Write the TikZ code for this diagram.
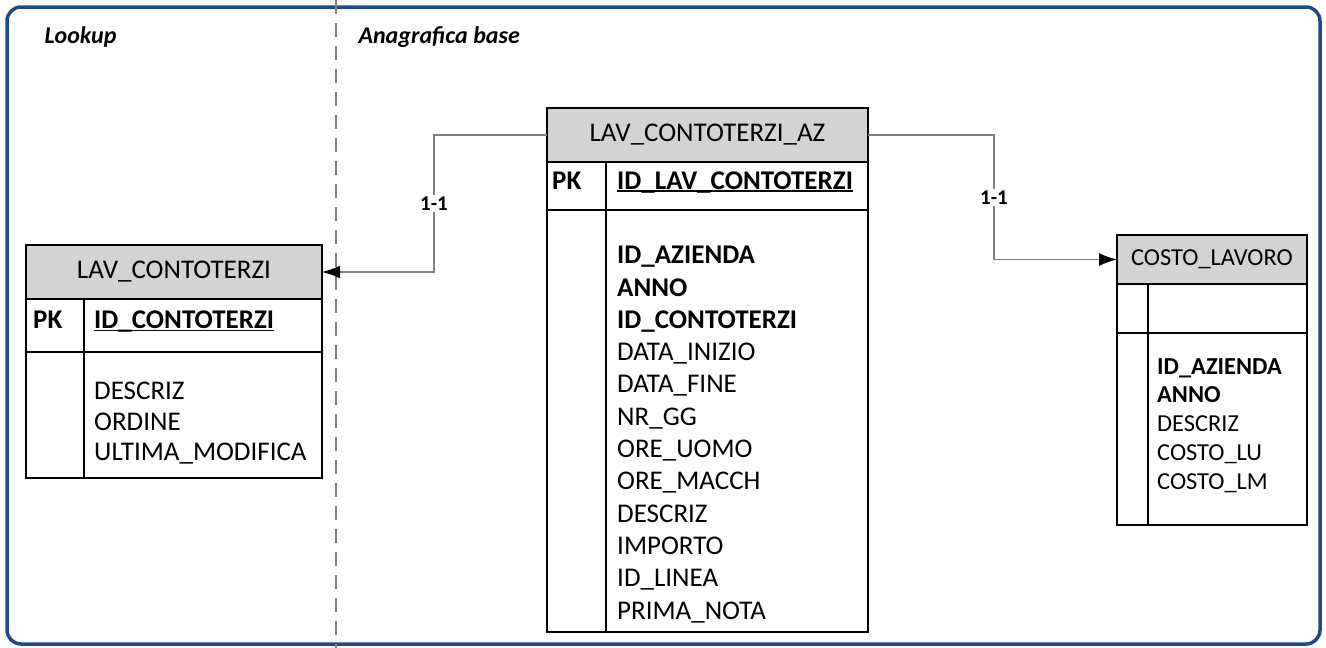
\documentclass[tikz,border=0pt]{standalone}
\usepackage{fontspec}
\setmainfont{Carlito}
\usetikzlibrary{positioning,arrows.meta}

\definecolor{frameblue}{RGB}{31,73,130}
\definecolor{headgray}{RGB}{211,211,211}
\definecolor{linkgray}{RGB}{128,128,128}

% bold key field with underline
\newcommand{\pkfield}[1]{\setbox0=\hbox{\bfseries #1}\rlap{\rule[-2.5pt]{\wd0}{1.4pt}}\box0}

\begin{document}
\begin{tikzpicture}[x=1pt, y=-1pt,
    tabbox/.style={rectangle, draw, line width=2pt, outer sep=0pt, inner sep=0pt, anchor=north west},
    tabhead/.style={tabbox, fill=headgray},
    bigfont/.style={font=\fontsize{27}{32.3}\selectfont},
    midfont/.style={font=\fontsize{27}{30.5}\selectfont},
    smallfont/.style={font=\fontsize{24.4}{28.8}\selectfont},
    keytext/.style={inner sep=0pt, anchor=west, text height=1.36ex, text depth=0pt},
    fieldtext/.style={inner sep=0pt, anchor=north west, align=left},
    divider/.style={line width=2pt},
    link/.style={draw=linkgray, line width=1.5pt, -{Latex[length=18pt, width=13pt, color=black]}},
    card/.style={fill=white, inner sep=1.5pt, text=black, font=\fontsize{21}{25}\selectfont\bfseries},
    zone/.style={anchor=west, font=\fontsize{24}{28}\selectfont\bfseries\itshape}
]
\useasboundingbox (0,0) rectangle (1326,648);

% frame and lanes
\draw[frameblue, line width=3.5pt, rounded corners=14pt] (7,7) rectangle (1320,644);
\draw[linkgray, line width=1.5pt, dash pattern=on 14pt off 9pt] (336,0) -- (336,648);
\node[zone] (lookup) at (41,37) {Lookup};
\node[zone] (anag) at (355,37) {Anagrafica base};

% LAV_CONTOTERZI
\node[tabhead, midfont, minimum width=296pt, minimum height=54pt] (lchead) at (26,245) {LAV\_CONTOTERZI};
\node[tabbox, minimum width=296pt, minimum height=53pt] (lckey) at (lchead.south west) {};
\node[tabbox, minimum width=296pt, minimum height=126pt] (lcbody) at (lckey.south west) {};
\draw[divider] ([xshift=58pt]lckey.north west) -- ([xshift=58pt]lcbody.south west);
\node[keytext, midfont] (lcpk) at ([xshift=7pt]lckey.west) {\bfseries PK};
\node[keytext, midfont] (lcid) at ([xshift=68pt]lckey.west) {\pkfield{ID\_CONTOTERZI}};
\node[fieldtext, midfont] (lcfields) at ([xshift=68pt, yshift=-30pt]lcbody.north west)
    {DESCRIZ\\ORDINE\\ULTIMA\_MODIFICA};

% LAV_CONTOTERZI_AZ
\node[tabhead, bigfont, minimum width=321pt, minimum height=54pt] (azhead) at (547,108) {LAV\_CONTOTERZI\_AZ};
\node[tabbox, minimum width=321pt, minimum height=48pt] (azkey) at (azhead.south west) {};
\node[tabbox, minimum width=321pt, minimum height=422pt] (azbody) at (azkey.south west) {};
\draw[divider] ([xshift=59pt]azkey.north west) -- ([xshift=59pt]azbody.south west);
\node[keytext, bigfont] (azpk) at ([xshift=5pt]azkey.west) {\bfseries PK};
\node[keytext, bigfont] (azid) at ([xshift=70pt]azkey.west) {\pkfield{ID\_LAV\_CONTOTERZI}};
\node[fieldtext, bigfont] (azfields) at ([xshift=70pt, yshift=-36pt]azbody.north west)
    {\textbf{ID\_AZIENDA}\\\textbf{ANNO}\\\textbf{ID\_CONTOTERZI}\\DATA\_INIZIO\\DATA\_FINE\\NR\_GG\\
     ORE\_UOMO\\ORE\_MACCH\\DESCRIZ\\IMPORTO\\ID\_LINEA\\PRIMA\_NOTA};

% COSTO_LAVORO
\node[tabhead, smallfont, minimum width=190pt, minimum height=49pt] (clhead) at (1117,235) {COSTO\_LAVORO};
\node[tabbox, minimum width=190pt, minimum height=49pt] (clkey) at (clhead.south west) {};
\node[tabbox, minimum width=190pt, minimum height=192pt] (clbody) at (clkey.south west) {};
\draw[divider] ([xshift=31pt]clkey.north west) -- ([xshift=31pt]clbody.south west);
\node[fieldtext, smallfont] (clfields) at ([xshift=40pt, yshift=-25pt]clbody.north west)
    {\textbf{ID\_AZIENDA}\\\textbf{ANNO}\\DESCRIZ\\COSTO\_LU\\COSTO\_LM};

% relations
\draw[link] (azhead.west) -- ++(-113,0) |- node[card, pos=0.25] {1-1} (lchead.east);
\draw[link] (azhead.east) -- ++(126,0) |- node[card, pos=0.25] {1-1} (clhead.west);

\end{tikzpicture}
\end{document}
